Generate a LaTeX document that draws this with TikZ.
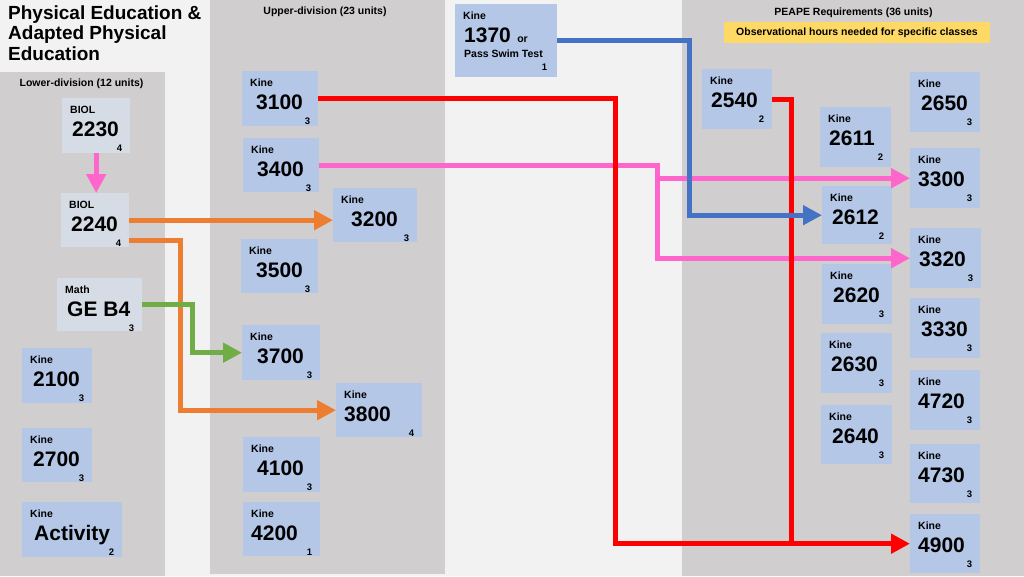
\documentclass[tikz,border=0pt]{standalone}
\usepackage{fontspec}
\setmainfont{Liberation Sans}
\usetikzlibrary{arrows.meta, positioning, calc}
\definecolor{panelgray}{RGB}{208,206,206}
\definecolor{pagebg}   {RGB}{242,242,242}
\definecolor{boxblue}  {RGB}{180,199,231}
\definecolor{boxpale}  {RGB}{214,220,229}
\definecolor{notegold} {RGB}{255,217,102}
\definecolor{clrRed}   {RGB}{255,  0,  0}
\definecolor{clrPink}  {RGB}{255,102,204}
\definecolor{clrOrange}{RGB}{237,125, 49}
\definecolor{clrGreen} {RGB}{112,173, 71}
\definecolor{clrBlue}  {RGB}{ 68,114,196}
\tikzset{
  crsbox/.style={rectangle, fill=boxblue, inner sep=0pt, anchor=north west},
  palebox/.style={crsbox, fill=boxpale},
  deptlbl/.style={font=\fontsize{10.5}{12}\selectfont\bfseries, inner sep=0pt, anchor=base west},
  numlbl/.style={font=\fontsize{21}{24}\selectfont\bfseries, inner sep=0pt, anchor=base west},
  crlbl/.style={font=\fontsize{9.5}{11}\selectfont\bfseries, inner sep=0pt, anchor=base east},
  headlbl/.style={font=\fontsize{10.5}{12}\selectfont\bfseries, inner sep=0pt, anchor=base},
  titlelbl/.style={font=\fontsize{19}{20.5}\selectfont\bfseries, inner sep=0pt, align=left, anchor=north west},
  notebox/.style={rectangle, fill=notegold, font=\fontsize{10.5}{12}\selectfont\bfseries,
    minimum width=266, minimum height=21, inner sep=0pt},
  link/.style={line width=5pt},
  arr/.style={link, -{Triangle[length=19pt, width=19pt]}},
}
% course box: [style]{name}{left,top}{w}{h}{dept}{number}{units}{number offset}
\newcommand{\course}[9][crsbox]{%
  \node[#1, minimum width=#4, minimum height=#5] (#2) at (#3) {};
  \node[deptlbl] (#2-d) at ([shift={(8,15)}]#2.north west) {#6};
  \node[numlbl] (#2-n) at ([shift={(#9,38.5)}]#2.north west) {#7};
  \node[crlbl] (#2-c) at ([shift={(-8,53)}]#2.north east) {#8};
}

\begin{document}
\begin{tikzpicture}[x=1pt, y=-1pt]
\useasboundingbox (0,0) rectangle (1024,576);
% panels
\fill[pagebg] (0,0) rectangle (1024,576);
\fill[panelgray] (0,72) rectangle (165,576);
\fill[panelgray] (210,0) rectangle (445,574);
\fill[panelgray] (682,0) rectangle (1024,576);

\node[titlelbl] (title) at (8,5.5) {Physical Education \&\\Adapted Physical\\Education};
\node[headlbl] (lowhd) at (81.5,86.5) {Lower-division (12 units)};
\node[headlbl] (uphd) at (325,14.5) {Upper-division (23 units)};
\node[headlbl] (peapehd) at (853.5,15) {PEAPE Requirements (36 units)};
\node[notebox] (obsnote) at (857,32.5) {Observational hours needed for specific classes};

% lower division
\course[palebox]{c2230}{62,98}{68}{55}{BIOL}{2230}{4}{10}
\course[palebox]{c2240}{61,193}{68}{54}{BIOL}{2240}{4}{10}
\course[palebox]{cGEB}{57,278}{85}{53}{Math}{GE B4}{3}{10}
\course{c2100}{22,348}{70}{55}{Kine}{2100}{3}{11}
\course{c2700}{22,428}{70}{54}{Kine}{2700}{3}{11}
\course{cAct}{22,502}{100}{55}{Kine}{Activity}{2}{12}

% upper division
\course{c3100}{242,71}{76}{55}{Kine}{3100}{3}{14}
\course{c3400}{243,138}{76}{54}{Kine}{3400}{3}{14}
\course{c3200}{333,188}{84}{54}{Kine}{3200}{3}{18}
\course{c3500}{241,239}{77}{54}{Kine}{3500}{3}{15}
\course{c3700}{242,325}{78}{55}{Kine}{3700}{3}{15}
\course{c3800}{336,383}{86}{54}{Kine}{3800}{4}{8}
\course{c4100}{243,437}{77}{55}{Kine}{4100}{3}{14}
\course{c4200}{243,502}{77}{54}{Kine}{4200}{1}{8}

% swim
\node[crsbox, minimum width=102, minimum height=73] (c1370) at (455,4) {};
\node[deptlbl] (c1370-d) at ([shift={(8,15)}]c1370.north west) {Kine};
\node[numlbl] (c1370-n) at ([shift={(9,38)}]c1370.north west) {1370};
\node[deptlbl] (c1370-or) at ([xshift=6pt]c1370-n.base east) {or};
\node[deptlbl] (c1370-s) at ([shift={(9,53)}]c1370.north west) {Pass Swim Test};
\node[crlbl] (c1370-c) at ([shift={(-10,66)}]c1370.north east) {1};

% PEAPE
\course{c2540}{702,69}{70}{60}{Kine}{2540}{2}{9}
\course{c2650}{910,72}{70}{60}{Kine}{2650}{3}{11}
\course{c2611}{820,107}{71}{60}{Kine}{2611}{2}{9}
\course{c3300}{910,148}{70}{60}{Kine}{3300}{3}{8}
\course{c2612}{822,186}{70}{58}{Kine}{2612}{2}{10}
\course{c3320}{910,228}{71}{60}{Kine}{3320}{3}{9}
\course{c2620}{822,264}{70}{60}{Kine}{2620}{3}{11}
\course{c3330}{910,298}{70}{60}{Kine}{3330}{3}{11}
\course{c2630}{821,333}{71}{60}{Kine}{2630}{3}{10}
\course{c4720}{910,370}{70}{60}{Kine}{4720}{3}{8}
\course{c2640}{821,405}{71}{59}{Kine}{2640}{3}{11}
\course{c4730}{910,444}{70}{59}{Kine}{4730}{3}{8}
\course{c4900}{910,514}{70}{59}{Kine}{4900}{3}{8}

% prerequisites
\draw[arr, clrPink] (c2230.south) -- (c2230.south |- c2240.north);
\draw[arr, clrOrange] (c2240.east) -- (c3200.west |- c2240.east);
\draw[arr, clrOrange] ([shift={(0,20)}]c2240.east) -- ++(51,0) |- (c3800.west);
\draw[arr, clrGreen] (cGEB.east) -- ++(50,0) |- (c3700.west);
\draw[arr, clrPink] (c3400.east) -- ++(338,0) coordinate (pinkknee) |- (c3320.west);
\draw[arr, clrPink] (pinkknee |- c3300.west) -- (c3300.west);
\draw[arr, clrRed] (c3100.east) -- ++(297,0) |- (c4900.west);
\coordinate (redjoin) at (791,543.5);
\draw[link, clrRed] (c2540.east) -| (redjoin);
\draw[arr, clrBlue] (c1370.east) -- ++(132,0) |- (c2612.west);
\end{tikzpicture}
\end{document}
